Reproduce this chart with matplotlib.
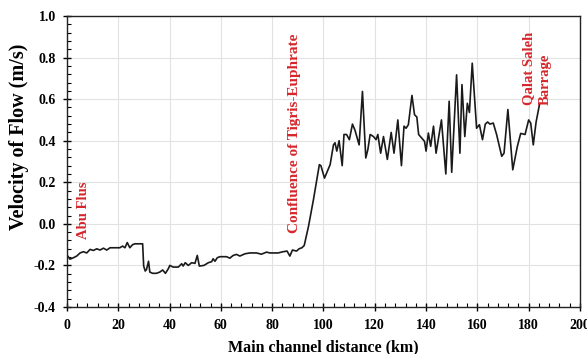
import matplotlib.pyplot as plt
from matplotlib.ticker import MultipleLocator

plt.rcParams['font.family'] = ['Liberation Serif', 'DejaVu Serif']
plt.rcParams['font.weight'] = 'bold'

# distance along main channel (km) and flow velocity (m/s)
distance = [0.3, 1.2, 2.5, 3.8, 5.1, 6.4, 7.7, 9.0, 10.3, 11.6, 12.9, 14.2, 15.5,
            16.8, 18.7, 20.6, 21.7, 22.6, 23.5, 24.5, 25.6, 26.5, 29.5, 29.9, 30.5,
            31.0, 31.8, 32.3, 33.4, 34.9, 36.2, 37.3, 38.4, 39.5, 40.1, 41.4, 43.4,
            44.7, 45.3, 46.1, 47.3, 48.6, 49.9, 50.8, 51.6, 53.4, 55.1, 56.4, 57.0,
            57.7, 58.6, 59.6, 62.2, 63.5, 64.8, 66.1, 67.4, 69.4, 71.3, 73.9, 75.8,
            77.8, 79.1, 80.4, 82.3, 84.3, 85.8, 86.9, 87.9, 89.5, 90.5, 91.6, 92.5,
            94.2, 96.1, 98.4, 99.0, 100.4, 102.6, 103.9, 104.5, 105.2, 106.1, 107.3,
            108.0, 109.0, 110.1, 111.3, 112.3, 113.9, 115.2, 116.5, 117.3, 118.2,
            119.5, 120.5, 121.2, 122.3, 123.4, 124.9, 126.4, 127.5, 129.0, 130.4,
            131.4, 132.2, 133.1, 134.5, 135.5, 136.4, 137.1, 138.3, 139.4, 140.0,
            140.9, 141.8, 142.9, 143.9, 146.0, 147.7, 149.0, 150.0, 151.9, 153.2,
            154.0, 155.1, 156.1, 156.9, 158.0, 159.7, 160.8, 162.0, 163.1, 164.0,
            164.9, 166.2, 167.5, 169.5, 170.4, 171.9, 173.8, 175.6, 176.9, 178.6,
            180.0, 180.8, 181.8, 182.9, 184.2]
velocity = [-0.155, -0.17, -0.163, -0.155, -0.14, -0.134, -0.14, -0.123, -0.128,
            -0.12, -0.126, -0.117, -0.126, -0.115, -0.115, -0.115, -0.107, -0.115,
            -0.09, -0.115, -0.10, -0.096, -0.096, -0.203, -0.227, -0.22, -0.18,
            -0.232, -0.238, -0.238, -0.232, -0.222, -0.238, -0.216, -0.20, -0.208,
            -0.208, -0.192, -0.203, -0.187, -0.20, -0.187, -0.19, -0.152, -0.203,
            -0.20, -0.187, -0.182, -0.168, -0.18, -0.163, -0.158, -0.158, -0.165,
            -0.152, -0.147, -0.155, -0.144, -0.14, -0.14, -0.146, -0.136, -0.14,
            -0.14, -0.14, -0.134, -0.131, -0.155, -0.126, -0.131, -0.12, -0.115,
            -0.104, -0.01, 0.117, 0.285, 0.28, 0.22, 0.285, 0.38, 0.39, 0.35, 0.40,
            0.28, 0.43, 0.43, 0.405, 0.48, 0.45, 0.38, 0.637, 0.317, 0.357, 0.43,
            0.42, 0.405, 0.43, 0.34, 0.42, 0.31, 0.44, 0.34, 0.50, 0.28, 0.47, 0.46,
            0.477, 0.618, 0.525, 0.514, 0.43, 0.413, 0.397, 0.35, 0.437, 0.373,
            0.47, 0.34, 0.50, 0.24, 0.59, 0.248, 0.717, 0.34, 0.67, 0.42, 0.58,
            0.536, 0.773, 0.46, 0.477, 0.405, 0.48, 0.49, 0.48, 0.485, 0.43, 0.325,
            0.34, 0.55, 0.26, 0.373, 0.435, 0.43, 0.50, 0.485, 0.38, 0.49, 0.573]

red = '#d6262b'

fig = plt.figure(figsize=(5.87, 3.54), dpi=100)
ax = fig.add_axes([0.1141, 0.1328, 0.8739, 0.822])

ax.plot(distance, velocity, color='#1a1a1a', lw=1.2)

ax.set_xlim(0, 200)
ax.set_ylim(-0.4, 1.0)
ax.xaxis.set_major_locator(MultipleLocator(20))
ax.xaxis.set_minor_locator(MultipleLocator(4))
ax.yaxis.set_minor_locator(MultipleLocator(0.04))
ax.set_yticks([-0.4, -0.2, 0.0, 0.2, 0.4, 0.6, 0.8, 1.0])
ax.set_yticklabels(['-0.4', '-0.2', '0.0', '0.2', '0.4', '0.6', '0.8', '1.0'])
ax.grid(which='major', color='#e2e2e2', lw=0.8)
ax.set_axisbelow(True)
ax.tick_params(which='major', direction='inout', length=6, width=1, labelsize=10)
ax.tick_params(which='minor', direction='in', length=3, width=0.8)
ax.tick_params(axis='x', pad=6)
ax.tick_params(axis='y', pad=5)
for s in ax.spines.values():
    s.set_linewidth(1.0)
    s.set_color('#222222')

ax.set_xlabel('Main channel distance (km)', fontsize=11.5, fontweight='bold', labelpad=5)
ax.set_ylabel('Velocity of Flow (m/s)', fontsize=14.5, fontweight='bold')
ax.yaxis.set_label_coords(-0.074, 0.585)

# site annotations
ax.text(6.4, -0.075, 'Abu Flus', rotation=90, color=red, fontsize=10.5,
        fontweight='bold', ha='center', va='bottom')
ax.text(88.9, -0.044, 'Confluence of Tigris-Euphrate', rotation=90, color=red,
        fontsize=11, fontweight='bold', ha='center', va='bottom')
ax.text(183.2, 0.572, 'Qalat Saleh\nBarrage', rotation=90, color=red,
        fontsize=10.5, fontweight='bold', ha='center', va='bottom',
        multialignment='left', linespacing=1.35)

fig.savefig('out.png', dpi=100)
